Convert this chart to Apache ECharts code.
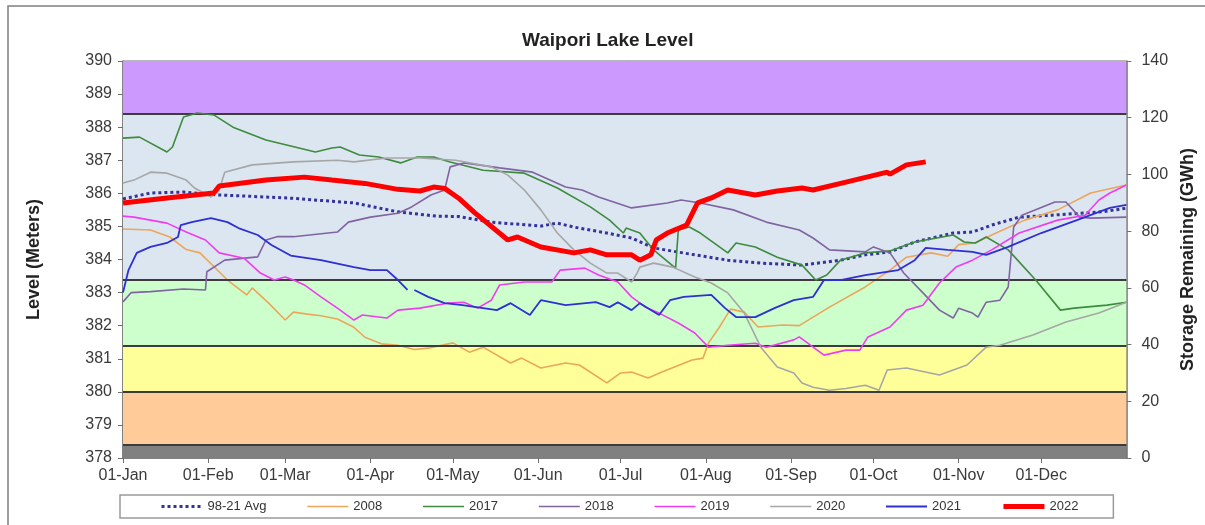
<!DOCTYPE html>
<html>
<head>
<meta charset="utf-8">
<title>Waipori Lake Level</title>
<script src="https://cdn.jsdelivr.net/npm/echarts@6/dist/echarts.min.js"></script>
<style>
  html, body { margin: 0; padding: 0; background: #fff; }
  #chart { width: 1205px; height: 525px; }
</style>
</head>
<body>
<div id="chart"></div>
<script>
// x axis: day of year, labelled at the first of each month
var monthStarts = [0, 31, 59, 90, 120, 151, 181, 212, 243, 273, 304, 334];
var monthLabels = ['01-Jan', '01-Feb', '01-Mar', '01-Apr', '01-May', '01-Jun',
                   '01-Jul', '01-Aug', '01-Sep', '01-Oct', '01-Nov', '01-Dec'];

// storage bands (lake level, meters) and their fills, bottom to top
var bandEdges = [378, 378.4, 380, 381.4, 383.4, 388.4, 390];
var bandColors = ['#808080', '#FFCC99', '#FFFF99', '#CCFFCC', '#DCE6F1', '#CC99FF'];

var seriesNames = ['98-21 Avg', '2008', '2017', '2018', '2019', '2020', '2021', '2022'];

// [day of year, level in meters]
var avg9821 = [[0,385.83],[10,386.01],[22,386.04],[35,385.95],[60,385.86],[84,385.71],[100,385.44],[114,385.31],
  [122,385.3],[134,385.13],[152,385.01],[158,385.1],[164,384.98],[176,384.8],[185,384.65],[193,384.35],
  [208,384.14],[220,383.98],[232,383.89],[247,383.83],[261,383.98],[270,384.14],[279,384.23],[288,384.53],
  [296,384.68],[302,384.8],[309,384.83],[316,385.04],[326,385.28],[338,385.34],[356,385.44],[365,385.55]];

var y2008 = [[0,384.92],[10,384.89],[17,384.68],[23,384.3],[28,384.2],[38,383.38],[45,382.93],[47,383.14],
  [53,382.68],[59,382.17],[62,382.41],[67,382.35],[72,382.3],[78,382.2],[84,381.95],[88,381.65],[94,381.45],
  [100,381.41],[106,381.28],[111,381.32],[120,381.48],[126,381.2],[131,381.35],[141,380.87],[145,381.02],
  [152,380.72],[161,380.87],[166,380.81],[176,380.27],[181,380.57],[185,380.6],[191,380.42],[196,380.6],
  [207,380.96],[211,381.02],[213,381.48],[217,381.96],[221,382.5],[226,382.41],[231,381.96],[240,382.02],
  [246,382.0],[257,382.56],[270,383.17],[279,383.68],[285,384.07],[294,384.2],[300,384.1],[304,384.45],
  [310,384.5],[316,384.74],[328,385.19],[340,385.5],[352,386.01],[365,386.25]];

var y2017 = [[0,387.67],[6,387.7],[16,387.25],[18,387.4],[22,388.31],[27,388.43],[33,388.37],[40,388.0],
  [52,387.61],[70,387.25],[76,387.37],[79,387.4],[86,387.16],[93,387.1],[101,386.92],[107,387.1],[113,387.1],
  [119,386.95],[131,386.7],[146,386.61],[158,386.16],[170,385.59],[177,385.19],[182,384.8],[183,384.95],
  [188,384.8],[193,384.29],[201,383.74],[202,384.89],[206,384.98],[210,384.8],[220,384.2],[223,384.5],
  [230,384.38],[238,384.07],[247,383.83],[252,383.38],[256,383.53],[261,383.98],[270,384.2],[279,384.26],
  [288,384.53],[302,384.74],[306,384.53],[310,384.5],[314,384.68],[322,384.29],[332,383.38],[341,382.47],
  [346,382.53],[358,382.62],[365,382.71]];

var y2018 = [[0,382.72],[3,383.0],[10,383.03],[22,383.11],[30,383.08],[30.5,383.63],[37,383.98],[49,384.08],
  [52,384.59],[56,384.69],[62,384.69],[78,384.83],[82,385.13],[90,385.28],[100,385.4],[105,385.59],[112,385.95],
  [117,386.1],[119,386.8],[124,386.92],[137,386.77],[149,386.64],[161,386.19],[167,386.1],[173,385.89],
  [185,385.56],[198,385.71],[203,385.8],[210,385.71],[222,385.5],[234,385.13],[246,384.89],[251,384.65],
  [257,384.29],[270,384.23],[273,384.38],[279,384.2],[284,383.59],[291,382.99],[297,382.47],[302,382.23],
  [304,382.53],[309,382.38],[311,382.26],[314,382.71],[319,382.77],[322,383.17],[324,384.98],[327,385.34],
  [339,385.74],[343,385.74],[348,385.28],[352,385.25],[365,385.28]];

var y2019 = [[0,385.31],[4,385.28],[10,385.19],[16,385.1],[23,384.83],[30,384.59],[35,384.2],[44,384.04],
  [50,383.59],[55,383.38],[59,383.47],[62,383.38],[66,383.23],[72,382.87],[78,382.53],[84,382.17],[87,382.32],
  [96,382.23],[100,382.47],[108,382.53],[118,382.68],[124,382.71],[129,382.53],[134,382.77],[137,383.23],
  [146,383.32],[156,383.32],[159,383.68],[168,383.74],[173,383.53],[180,383.32],[185,382.87],[190,382.56],
  [195,382.38],[202,382.08],[208,381.78],[213,381.35],[220,381.41],[230,381.47],[234,381.35],[244,381.57],
  [246,381.66],[255,381.11],[263,381.26],[268,381.26],[271,381.66],[279,381.96],[285,382.47],[291,382.62],
  [297,383.29],[303,383.77],[309,383.98],[316,384.29],[326,384.8],[340,385.19],[350,385.34],[355,385.8],
  [359,386.01],[365,386.25]];

var y2020 = [[0,386.31],[4,386.4],[10,386.64],[16,386.61],[23,386.4],[26,386.16],[32,385.89],[35,386.1],
  [37,386.64],[47,386.86],[62,386.95],[78,387.0],[84,386.95],[96,387.07],[108,387.07],[121,387.0],[134,386.8],
  [140,386.55],[146,386.1],[152,385.5],[158,384.8],[164,384.29],[170,383.89],[176,383.59],[180,383.59],
  [185,383.32],[187,383.59],[188,383.77],[193,383.89],[200,383.77],[208,383.47],[214,383.29],[220,382.99],
  [226,382.38],[232,381.35],[238,380.75],[244,380.57],[247,380.27],[251,380.14],[257,380.05],[263,380.1],
  [270,380.2],[275,380.05],[278,380.66],[285,380.72],[297,380.51],[307,380.81],[314,381.35],[319,381.41],
  [331,381.72],[343,382.11],[355,382.38],[365,382.71]];

var y2021 = [[0,383.0],[2,383.68],[5,384.2],[10,384.38],[16,384.5],[20,384.68],[21,385.04],[25,385.13],
  [32,385.25],[38,385.13],[42,384.95],[49,384.74],[54,384.44],[61,384.12],[72,383.98],[84,383.77],[90,383.68],
  [96,383.68],[100,383.38],[103.5,383.08],[105,'-'],[106,383.08],[111,382.87],[117,382.68],[123.5,382.62],
  [131,382.53],[136,382.47],[141,382.68],[148,382.32],[152,382.77],[161,382.62],[172,382.71],[177,382.56],
  [180,382.71],[185,382.47],[188,382.68],[195,382.32],[199,382.77],[204,382.87],[214,382.93],[219,382.53],
  [223,382.26],[230,382.26],[237,382.53],[244,382.77],[251,382.87],[255,383.38],[261,383.38],[270,383.53],
  [282,383.68],[288,383.98],[292,384.35],[300,384.29],[309,384.23],[314,384.14],[322,384.38],[334,384.8],
  [347,385.19],[359,385.56],[365,385.65]];

var y2022 = [[0,385.71],[16,385.86],[33,386.01],[35,386.22],[52,386.4],[66,386.49],[76,386.4],[88,386.3],
  [100,386.12],[108,386.07],[113,386.19],[117,386.15],[122,385.86],[128,385.41],[140,384.59],[143.5,384.68],
  [152,384.38],[164,384.2],[170,384.29],[176,384.14],[185,384.14],[188,383.98],[192,384.14],[194,384.59],
  [198,384.8],[205,385.04],[209,385.71],[214,385.86],[220,386.1],[230,385.95],[238,386.07],[247,386.16],
  [251,386.1],[263,386.34],[278,386.64],[279,386.58],[285,386.86],[292,386.95]];

var seriesData = [avg9821, y2008, y2017, y2018, y2019, y2020, y2021, y2022];
var seriesColors = ['#333399', '#EBA65C', '#3D8B3D', '#8064A2', '#F03CF0', '#A6A6A6', '#2F2FD2', '#FF0000'];
var seriesWidths = [3, 1.6, 1.6, 1.6, 1.6, 1.6, 1.8, 5];

var chart = echarts.init(document.getElementById('chart'));

var bandAreas = [];
for (var i = 0; i < bandColors.length; i++) {
    bandAreas.push([{yAxis: bandEdges[i], itemStyle: {color: bandColors[i]}}, {yAxis: bandEdges[i + 1]}]);
}
var bandLines = bandEdges.slice(1, -1).map(function (v) { return {yAxis: v}; });

var series = [{
    name: 'bands',
    type: 'line',
    data: [],
    z: 1,
    silent: true,
    markArea: { silent: true, label: {show: false}, data: bandAreas },
    markLine: {
        silent: true, symbol: ['none', 'none'], label: {show: false},
        lineStyle: {color: '#3c3c3c', width: 2, type: 'solid'},
        data: bandLines
    }
}];
var legendItems = [];
seriesNames.forEach(function (name, i) {
    series.push({
        name: name,
        type: 'line',
        data: seriesData[i],
        symbol: 'none',
        z: 3 + i,
        connectNulls: false,
        lineStyle: {
            color: seriesColors[i],
            width: seriesWidths[i],
            type: i === 0 ? [3, 3] : 'solid'
        },
        itemStyle: {color: seriesColors[i]}
    });
    legendItems.push({
        name: name,
        lineStyle: {width: seriesWidths[i], type: i === 0 ? [3, 3] : 'solid', color: seriesColors[i]}
    });
});

var option = {
    animation: false,
    backgroundColor: '#fff',
    textStyle: {fontFamily: 'Liberation Sans, Arial, sans-serif'},
    title: {
        text: 'Waipori Lake Level',
        left: 517,
        top: 26,
        textStyle: {fontSize: 19, fontWeight: 'bold', color: '#222'}
    },
    graphic: [{
        type: 'rect', silent: true, z: -1,
        shape: {x: 8, y: 6, width: 1300, height: 700},
        style: {fill: 'none', stroke: '#7f7f7f', lineWidth: 1.5}
    }],
    grid: {
        left: 123, right: 77, top: 61, bottom: 67,
        show: true, borderColor: '#707070', borderWidth: 1, backgroundColor: 'transparent'
    },
    legend: {
        data: legendItems,
        left: 120, top: 495,
        itemWidth: 41, itemHeight: 14, itemGap: 40,
        padding: [5, 35, 5, 40],
        borderColor: '#9a9a9a', borderWidth: 1.5, backgroundColor: '#fff',
        itemStyle: {opacity: 0},
        textStyle: {fontSize: 13, color: '#333'}
    },
    xAxis: {
        type: 'value', min: 0, max: 365,
        axisLine: {show: true, lineStyle: {color: '#707070', width: 1.5}},
        axisTick: {show: true, length: 5, customValues: monthStarts, lineStyle: {color: '#707070'}},
        axisLabel: {
            customValues: monthStarts, fontSize: 16, color: '#3a3a3a', margin: 10,
            formatter: function (v) { return monthLabels[monthStarts.indexOf(v)]; }
        },
        splitLine: {show: false}
    },
    yAxis: [{
        type: 'value', min: 378, max: 390, interval: 1, position: 'left',
        name: 'Level (Meters)', nameLocation: 'middle', nameGap: 80, nameRotate: 90,
        nameTextStyle: {fontSize: 18, fontWeight: 'bold', color: '#222'},
        axisLine: {show: true, lineStyle: {color: '#707070', width: 1.5}},
        axisTick: {show: true, length: 5, lineStyle: {color: '#707070'}},
        axisLabel: {fontSize: 16, color: '#3a3a3a', margin: 11},
        splitLine: {show: false}
    }, {
        type: 'value', min: 0, max: 140, interval: 20, position: 'right',
        name: 'Storage Remaining (GWh)', nameLocation: 'middle', nameGap: 52, nameRotate: 90,
        nameTextStyle: {fontSize: 18, fontWeight: 'bold', color: '#222'},
        axisLine: {show: true, lineStyle: {color: '#707070', width: 1.5}},
        axisTick: {show: true, length: 5, lineStyle: {color: '#707070'}},
        axisLabel: {fontSize: 16, color: '#3a3a3a', margin: 15},
        splitLine: {show: false}
    }],
    series: series
};

chart.setOption(option);
</script>
</body>
</html>
